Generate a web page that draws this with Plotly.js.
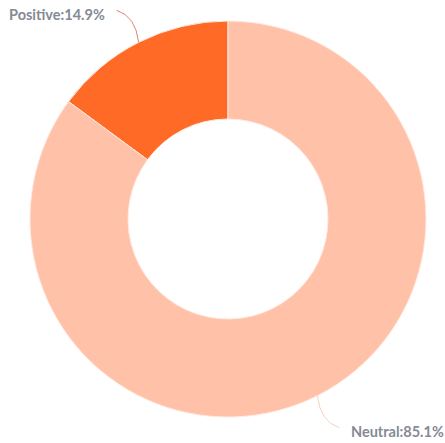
<!DOCTYPE html>
<html><head><meta charset="utf-8">
<script src="https://cdn.plot.ly/plotly-3.0.1.min.js"></script>
<style>html,body{margin:0;padding:0;background:#fff}</style>
</head><body><div id="chart" style="width:445px;height:443px"></div>
<script>
const labels = ["Positive", "Neutral"];
const values = [14.9, 85.1];
const colors = ["#FF6A26", "#FFC2A8"];
const lineColors = ["#D9896E", "#F6D2C2"];

const W = 445, H = 443;
const cx = 228, cy = 219, R = 198;
const total = values.reduce((a, b) => a + b, 0);

const trace = {
  type: "pie",
  labels: labels,
  values: values,
  sort: false,
  direction: "clockwise",
  rotation: -360 * values[0] / total,
  hole: 0.505,
  textinfo: "none",
  hoverinfo: "label+percent",
  marker: { colors: colors, line: { color: "#FFE9E0", width: 1 } },
  domain: { x: [(cx - R) / W, (cx + R) / W], y: [(H - cy - R) / H, (H - cy + R) / H] },
  showlegend: false
};

// leader lines and labels computed from slice mid-angles (counterclockwise from top)
const shapes = [], annotations = [];
let acc = 0;
values.forEach((v, i) => {
  const mid = (acc + v / 2) / total * 2 * Math.PI;
  acc += v;
  const sx = cx - R * Math.sin(mid), sy = cy - R * Math.cos(mid);
  const dx = -Math.sin(mid) >= 0 ? 1 : -1;
  const dy = -Math.cos(mid) >= 0 ? 1 : -1;
  const ex = sx + dx * 22, ey = sy + dy * 32;
  const qx = sx + dx * 3, qy = sy + dy * 26;
  const px = x => x / W, py = y => 1 - y / H;
  shapes.push({
    type: "path", xref: "paper", yref: "paper",
    path: `M ${px(sx)} ${py(sy)} Q ${px(qx)} ${py(qy)} ${px(ex)} ${py(ey)}`,
    line: { color: lineColors[i], width: 1 }
  });
  annotations.push({
    xref: "paper", yref: "paper",
    x: px(ex + dx * 10), y: py(ey + 4),
    xanchor: dx > 0 ? "left" : "right", yanchor: "middle",
    text: `${labels[i]}:${v}%`, showarrow: false,
    font: { family: "Lato, 'Noto Sans', sans-serif", size: 14.5, color: "#858A94", weight: "bold" }
  });
});

const layout = {
  width: W, height: H,
  margin: { l: 0, r: 0, t: 0, b: 0 },
  paper_bgcolor: "#fff", plot_bgcolor: "#fff",
  shapes: shapes, annotations: annotations
};
Plotly.newPlot("chart", [trace], layout, { displayModeBar: false, staticPlot: true });
</script></body></html>
